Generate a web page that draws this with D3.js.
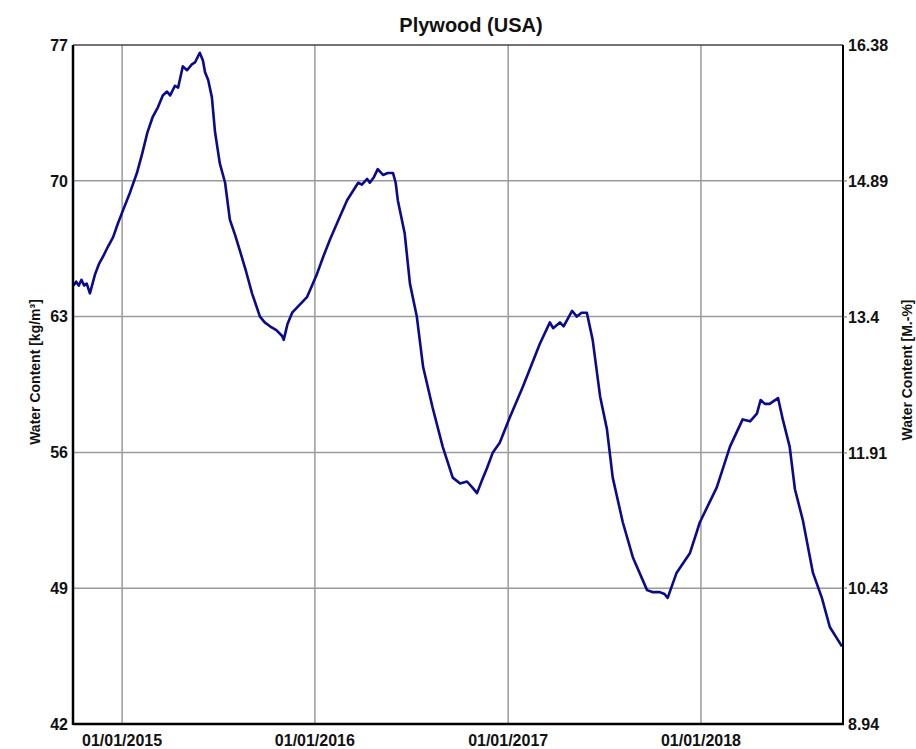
<!DOCTYPE html>
<html><head><meta charset="utf-8">
<script src="https://cdn.jsdelivr.net/npm/d3@7"></script>
<style>body{margin:0;background:#fff;} text{font-family:"Liberation Sans",Arial,sans-serif;}</style>
</head><body><svg id="c" width="916" height="749"></svg>
<script>
const title = "Plywood (USA)";
const leftTicks = [42, 49, 56, 63, 70, 77];
const rightTicks = [8.94, 10.43, 11.91, 13.4, 14.89, 16.38];
const rightTickLabels = ["8.94", "10.43", "11.91", "13.4", "14.89", "16.38"];
const xTickDates = ["2015-01-01", "2016-01-01", "2017-01-01", "2018-01-01"];
const xTickLabels = ["01/01/2015", "01/01/2016", "01/01/2017", "01/01/2018"];
const dates = [
"2014-10-01","2014-10-06","2014-10-11","2014-10-16","2014-10-21","2014-10-26","2014-11-01","2014-11-06","2014-11-11","2014-11-18",
"2014-11-26","2014-12-05","2014-12-15","2014-12-24","2015-01-03","2015-01-16","2015-01-29","2015-02-08","2015-02-18","2015-02-28",
"2015-03-10","2015-03-19","2015-03-27","2015-04-02","2015-04-11","2015-04-17","2015-04-26","2015-05-04","2015-05-13","2015-05-19",
"2015-05-28","2015-06-03","2015-06-07","2015-06-13","2015-06-20","2015-06-26","2015-07-05","2015-07-15","2015-07-24","2015-08-03",
"2015-08-12","2015-08-24","2015-09-04","2015-09-19","2015-09-28","2015-10-08","2015-10-20","2015-10-31","2015-11-03","2015-11-10",
"2015-11-19","2015-12-03","2015-12-17","2016-01-05","2016-01-17","2016-01-30","2016-02-15","2016-03-02","2016-03-23","2016-03-30",
"2016-04-09","2016-04-14","2016-04-22","2016-04-29","2016-05-09","2016-05-18","2016-05-28","2016-06-02","2016-06-06","2016-06-19",
"2016-06-29","2016-07-12","2016-07-24","2016-08-11","2016-08-30","2016-09-18","2016-10-02","2016-10-15","2016-10-25","2016-11-03",
"2016-11-13","2016-11-22","2016-12-03","2016-12-16","2017-01-04","2017-01-29","2017-03-02","2017-03-21","2017-03-27","2017-04-09",
"2017-04-16","2017-05-02","2017-05-11","2017-05-20","2017-05-30","2017-06-10","2017-06-24","2017-07-07","2017-07-18","2017-08-06",
"2017-08-25","2017-09-21","2017-10-01","2017-10-15","2017-10-24","2017-10-30","2017-11-16","2017-12-11","2017-12-30","2018-01-31",
"2018-02-25","2018-03-21","2018-04-04","2018-04-17","2018-04-24","2018-05-02","2018-05-11","2018-05-27","2018-06-05","2018-06-18",
"2018-06-28","2018-07-13","2018-08-01","2018-08-18","2018-09-02","2018-09-25"];
const waterContent = [
64.6,64.8,64.6,64.9,64.6,64.7,64.2,64.7,65.2,65.7,
66.1,66.6,67.1,67.8,68.5,69.4,70.4,71.4,72.5,73.3,
73.8,74.4,74.6,74.4,74.9,74.8,75.9,75.7,76.0,76.1,
76.6,76.2,75.6,75.2,74.3,72.5,70.9,69.9,68.0,67.2,
66.4,65.3,64.2,63.0,62.7,62.5,62.3,62.0,61.8,62.6,
63.2,63.6,64.0,65.2,66.1,67.0,68.0,69.0,69.9,69.8,
70.1,69.9,70.2,70.6,70.3,70.4,70.4,69.9,69.0,67.3,
64.7,63.0,60.4,58.3,56.3,54.7,54.4,54.5,54.2,53.9,
54.6,55.2,56.0,56.5,57.8,59.4,61.6,62.7,62.4,62.7,
62.5,63.3,63.0,63.2,63.2,61.8,58.9,57.2,54.7,52.4,
50.6,48.9,48.8,48.8,48.7,48.5,49.8,50.8,52.4,54.2,
56.3,57.7,57.6,58.0,58.7,58.5,58.5,58.8,57.7,56.3,
54.1,52.5,49.8,48.5,47.0,46.0];

const parse = d3.utcParse("%Y-%m-%d");
const svg = d3.select("#c");
const L = 73, R = 843, T = 45, B = 724;
const x = d3.scaleUtc().domain([parse("2014-09-30"), parse("2018-09-27")]).range([L, R]);
const y = d3.scaleLinear().domain([42, 77]).range([B, T]);
const y2 = d3.scaleLinear().domain([8.94, 16.38]).range([B, T]);

// grid
svg.append("g").selectAll("line").data(leftTicks.slice(1, -1)).join("line")
  .attr("x1", L).attr("x2", R).attr("y1", d => y(d)).attr("y2", d => y(d))
  .attr("stroke", "#9a9a9a").attr("stroke-width", 1.5);
svg.append("g").selectAll("line").data(xTickDates).join("line")
  .attr("x1", d => x(parse(d))).attr("x2", d => x(parse(d))).attr("y1", T).attr("y2", B)
  .attr("stroke", "#9a9a9a").attr("stroke-width", 1.5);

// line
const data = dates.map((d, i) => ({d: parse(d), v: waterContent[i]}));
svg.append("path").datum(data)
  .attr("d", d3.line().x(p => x(p.d)).y(p => y(p.v)))
  .attr("fill", "none").attr("stroke", "#0a0a8c").attr("stroke-width", 2.6)
  .attr("stroke-linejoin", "round");

// frame
svg.append("line").attr("x1", L).attr("x2", R).attr("y1", T).attr("y2", T).attr("stroke", "#444").attr("stroke-width", 1.5);
svg.append("line").attr("x1", R).attr("x2", R).attr("y1", T).attr("y2", B).attr("stroke", "#000").attr("stroke-width", 2);
svg.append("line").attr("x1", L).attr("x2", L).attr("y1", T).attr("y2", B + 1).attr("stroke", "#000").attr("stroke-width", 2.5);
svg.append("line").attr("x1", L).attr("x2", R + 1).attr("y1", B).attr("y2", B).attr("stroke", "#000").attr("stroke-width", 2.5);

// right small ticks
svg.append("g").selectAll("line").data(rightTicks.slice(1, -1)).join("line")
  .attr("x1", R).attr("x2", R + 4).attr("y1", d => y2(d)).attr("y2", d => y2(d))
  .attr("stroke", "#666").attr("stroke-width", 1);

// left labels
svg.append("g").selectAll("text").data(leftTicks).join("text")
  .attr("x", 68).attr("y", d => y(d)).attr("dy", "0.36em").attr("text-anchor", "end")
  .attr("font-size", 16).attr("font-weight", "bold").attr("fill", "#111").text(d => d);
// right labels
svg.append("g").selectAll("text").data(rightTicks).join("text")
  .attr("x", 848).attr("y", d => y2(d)).attr("dy", "0.36em").attr("text-anchor", "start")
  .attr("font-size", 16).attr("font-weight", "bold").attr("fill", "#111").text((d, i) => rightTickLabels[i]);
// x labels
svg.append("g").selectAll("text").data(xTickDates).join("text")
  .attr("x", d => x(parse(d))).attr("y", 746).attr("text-anchor", "middle")
  .attr("font-size", 16).attr("font-weight", "bold").attr("fill", "#111").text((d, i) => xTickLabels[i]);

// title
svg.append("text").attr("x", 471).attr("y", 32).attr("text-anchor", "middle")
  .attr("font-size", 20).attr("font-weight", "bold").attr("fill", "#111").text(title);
// axis titles
svg.append("text").attr("transform", "translate(40,372) rotate(-90)").attr("text-anchor", "middle")
  .attr("font-size", 14).attr("font-weight", "bold").attr("fill", "#111").text("Water Content [kg/m³]");
svg.append("text").attr("transform", "translate(912,370) rotate(-90)").attr("text-anchor", "middle")
  .attr("font-size", 14).attr("font-weight", "bold").attr("fill", "#111").text("Water Content [M.-%]");
</script></body></html>
